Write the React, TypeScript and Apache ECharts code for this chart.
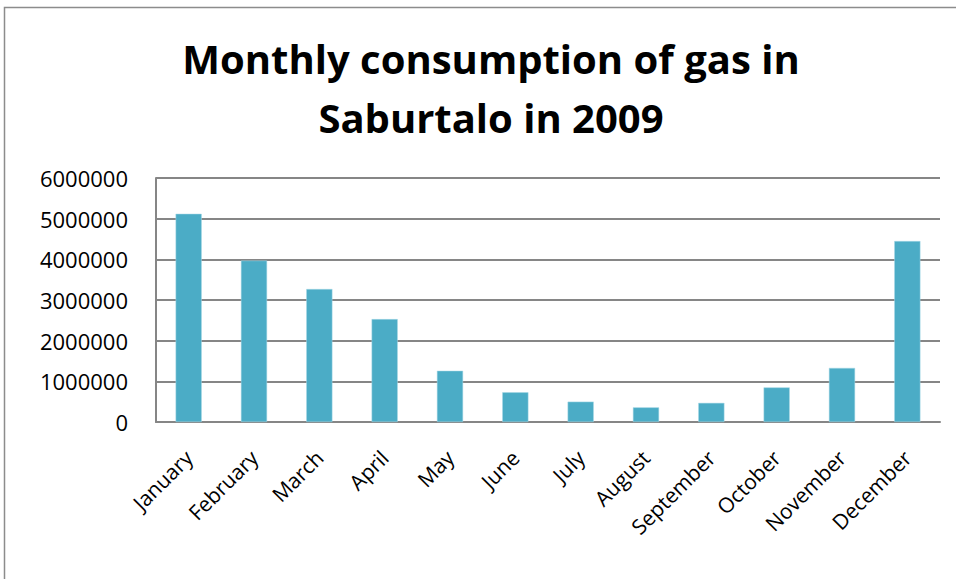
import React, { useEffect, useRef } from "react";
import * as echarts from "echarts";

const months = ["January", "February", "March", "April", "May", "June", "July", "August", "September", "October", "November", "December"];
const consumption = [5120000, 3970000, 3270000, 2530000, 1260000, 730000, 500000, 360000, 470000, 850000, 1330000, 4450000];
const yTicks = [0, 1000000, 2000000, 3000000, 4000000, 5000000, 6000000];
const titleText = "Monthly consumption of gas in\nSaburtalo in 2009";

export default function App() {
  const ref = useRef<HTMLDivElement>(null);
  useEffect(() => {
    const chart = echarts.init(ref.current!, null, { renderer: "svg" });
    chart.setOption({
      animation: false,
      backgroundColor: "#ffffff",
      title: {
        text: titleText,
        left: 486,
        top: 24,
        textAlign: "center",
        textStyle: {
          fontFamily: "Open Sans",
          fontWeight: "bold",
          fontSize: 40,
          lineHeight: 59,
          color: "#000000",
        },
      },
      graphic: [
        {
          type: "rect",
          shape: { x: 4.5, y: 7.5, width: 1000, height: 1000 },
          style: { fill: "none", stroke: "#8c8c8c", lineWidth: 1.5 },
          silent: true,
        },
      ],
      grid: { left: 156, right: 16, top: 178, bottom: 157, containLabel: false },
      xAxis: {
        type: "category",
        data: months,
        axisLine: { show: true, lineStyle: { color: "#868686", width: 2 } },
        axisTick: { show: false },
        axisLabel: {
          rotate: 45,
          interval: 0,
          fontFamily: "Open Sans",
          fontSize: 21,
          color: "#000000",
          margin: 32,
        },
      },
      yAxis: {
        type: "value",
        min: yTicks[0],
        max: yTicks[yTicks.length - 1],
        interval: 1000000,
        axisLine: { show: true, lineStyle: { color: "#868686", width: 2 } },
        axisTick: { show: false },
        splitLine: { show: true, lineStyle: { color: "#868686", width: 2 } },
        axisLabel: {
          fontFamily: "Open Sans",
          fontSize: 22,
          color: "#000000",
          margin: 28,
          formatter: (v: number) => String(v),
        },
      },
      series: [
        {
          type: "bar",
          data: consumption,
          barWidth: "40%",
          itemStyle: { color: "#4BACC6", borderColor: "#a8d8e6", borderWidth: 0.5 },
        },
      ],
    });
    return () => chart.dispose();
  }, []);
  return <div ref={ref} style={{ position: "absolute", left: 0, top: 0, width: 956, height: 579 }} />;
}
